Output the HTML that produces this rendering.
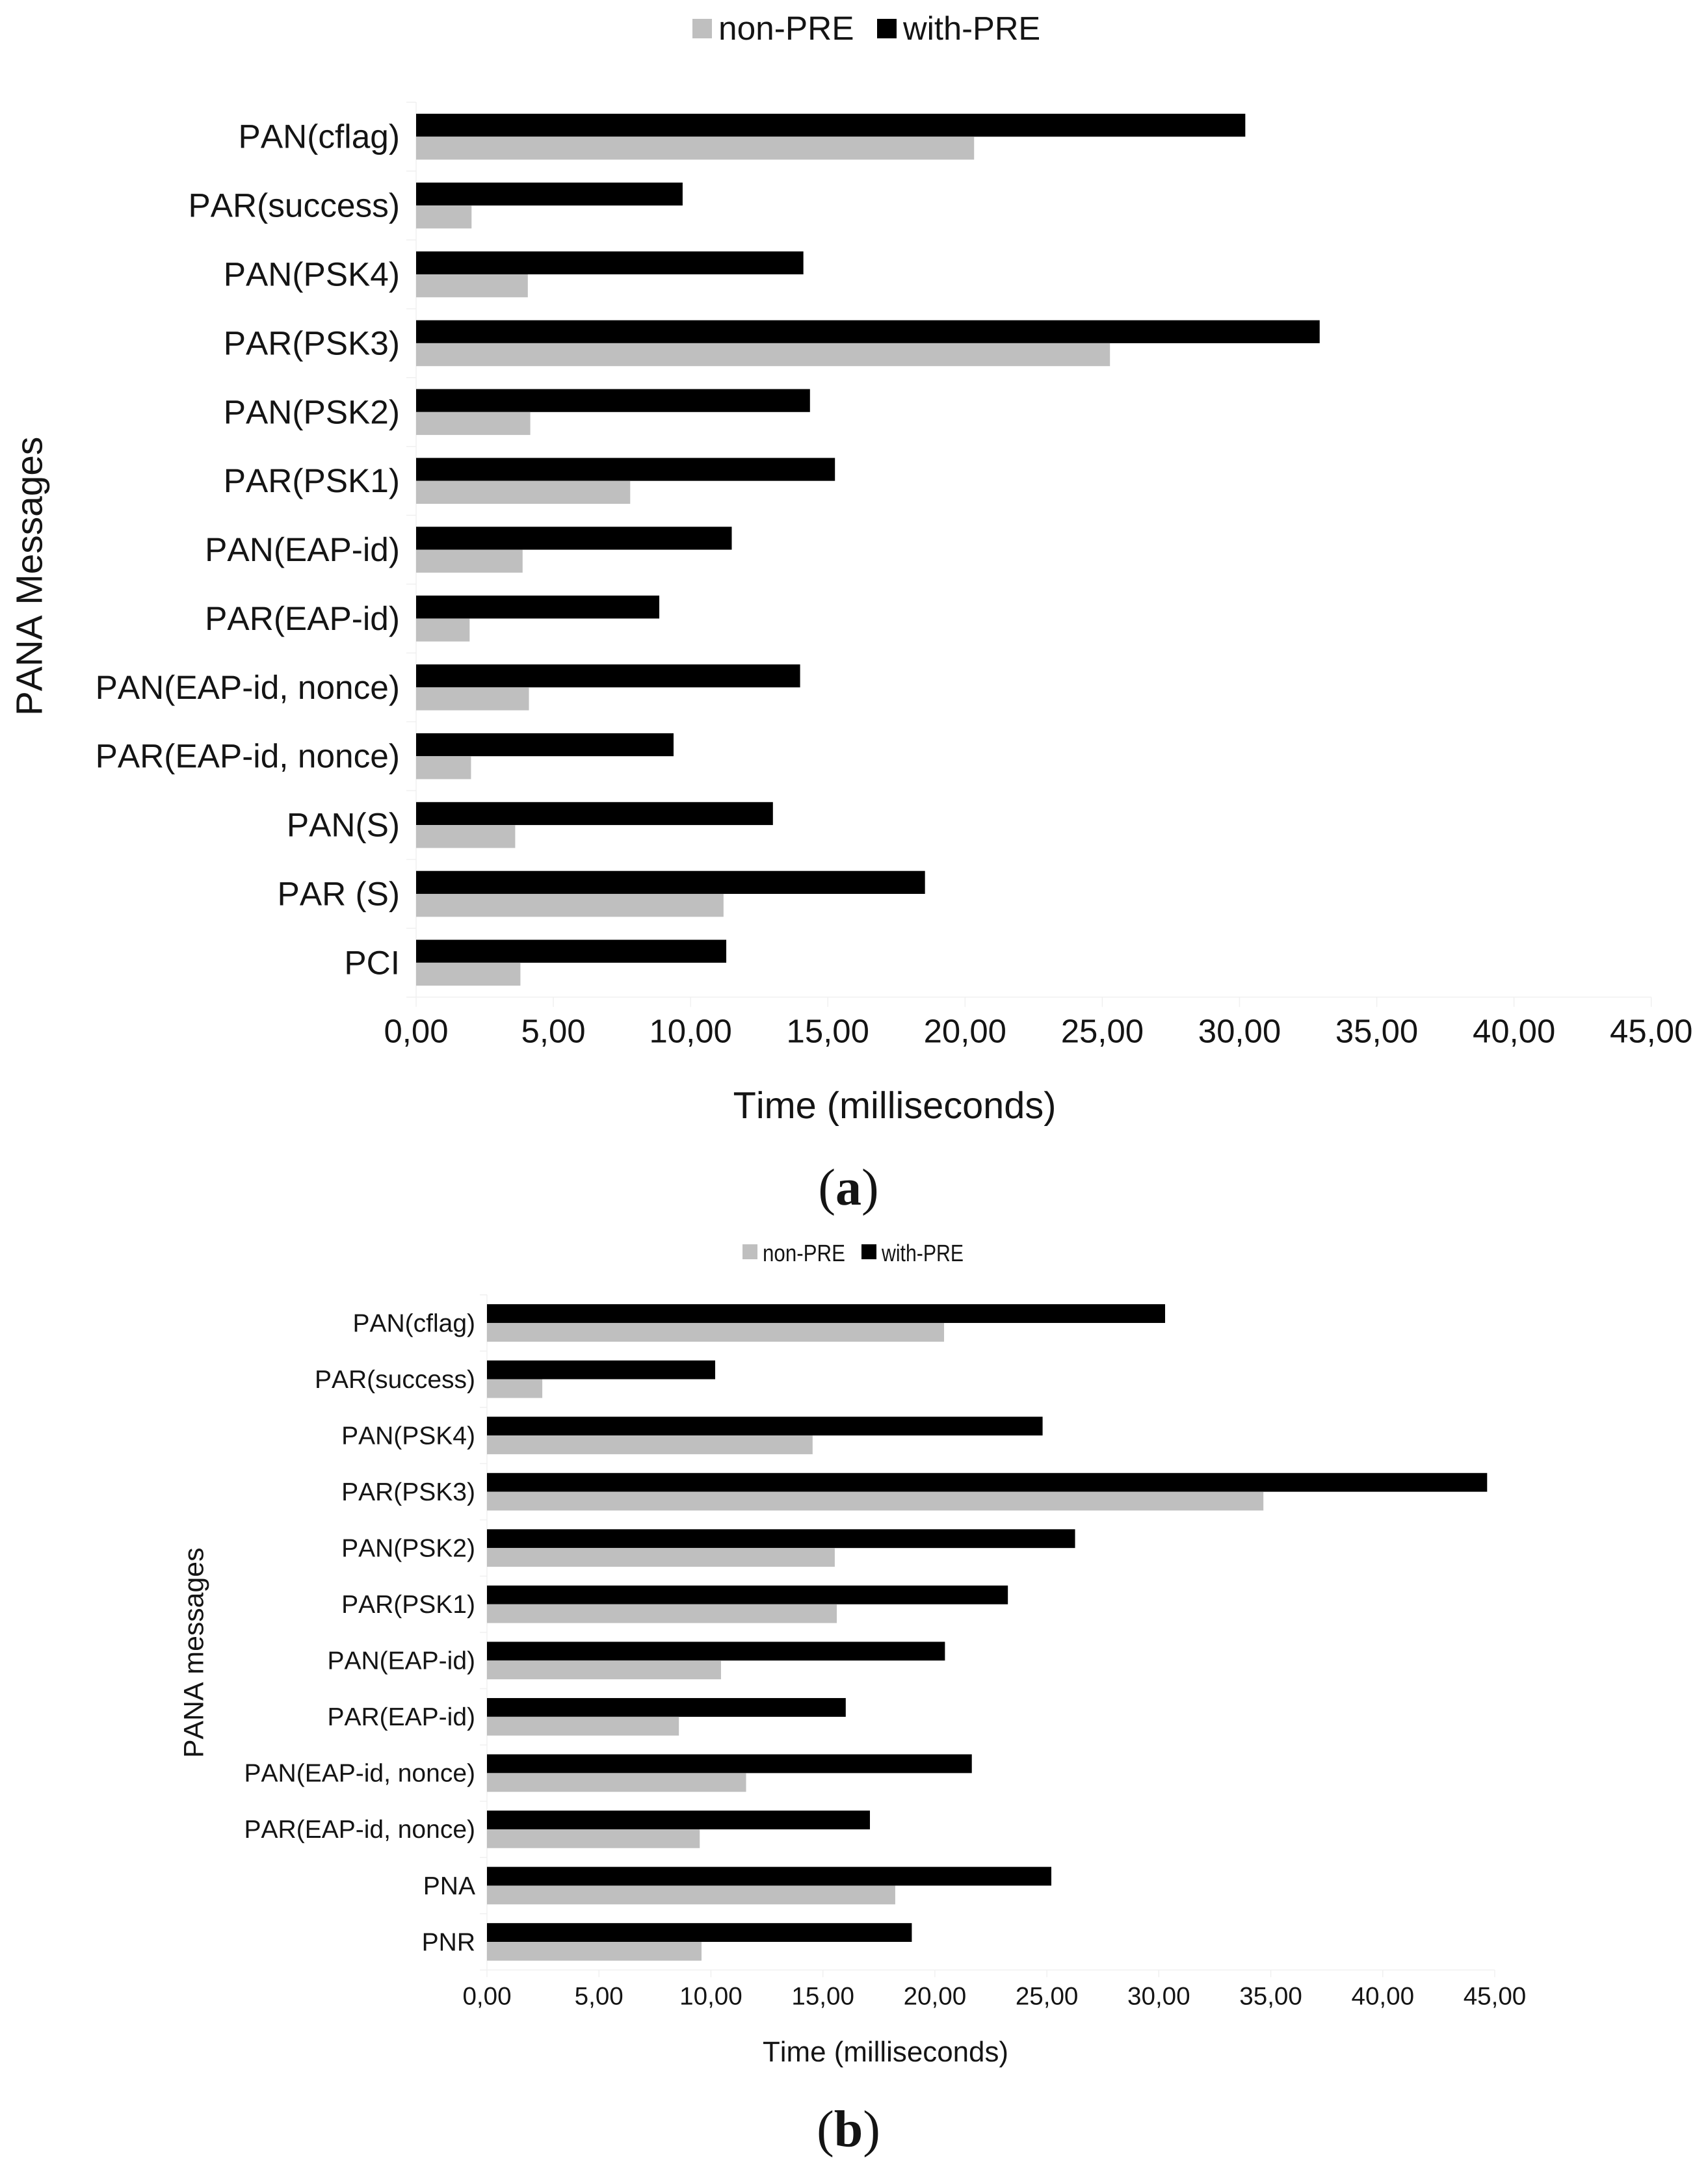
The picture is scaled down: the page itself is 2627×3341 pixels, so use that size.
<!DOCTYPE html>
<html lang="en">
<head>
<meta charset="utf-8">
<title>PANA message processing time with and without PRE</title>
<style>
  html, body { margin: 0; padding: 0; background: #fff; }
  svg { display: block; }
  text { font-family: "Liberation Sans", sans-serif; fill: #141414; text-rendering: geometricPrecision; font-kerning: none; }
  .caption { font-family: "Liberation Serif", serif; }
</style>
</head>
<body>
<svg id="figure" xmlns="http://www.w3.org/2000/svg" width="2627" height="3341" viewBox="0 0 2627 3341">
  <rect x="0" y="0" width="2627" height="3341" fill="#ffffff"/>

  <g id="chart-a"></g>
  <g>
    <g>
      <rect x="1065" y="29" width="30" height="30" fill="#bfbfbf"/>
      <text x="1105" y="61" font-size="51.4">non-PRE</text>
    </g>
    <g>
      <rect x="1349" y="29" width="30" height="30" fill="#000000"/>
      <text x="1389" y="61" font-size="50.7">with-PRE</text>
    </g>
  </g>
  <text x="1376" y="1720" font-size="57.7" text-anchor="middle">Time (milliseconds)</text>
  <text transform="translate(64.5 1101) rotate(-90)" x="0" y="0" font-size="56.8">PANA Messages</text>
  <text class="caption" x="1305" y="1853" font-size="80" text-anchor="middle">(<tspan font-weight="bold">a</tspan>)</text>

  <g id="chart-b"></g>
  <g>
    <g>
      <rect x="1142" y="1914" width="23" height="23" fill="#bfbfbf"/>
      <text x="1173" y="1940" font-size="36.5" textLength="127" lengthAdjust="spacingAndGlyphs">non-PRE</text>
    </g>
    <g>
      <rect x="1325" y="1914" width="23" height="23" fill="#000000"/>
      <text x="1356" y="1940" font-size="36.5" textLength="126" lengthAdjust="spacingAndGlyphs">with-PRE</text>
    </g>
  </g>
  <text x="1362" y="3171" font-size="43.9" text-anchor="middle">Time (milliseconds)</text>
  <text transform="translate(312.3 2704) rotate(-90)" x="0" y="0" font-size="42.8">PANA messages</text>
  <text class="caption" x="1305" y="3301.7" font-size="80" text-anchor="middle">(<tspan font-weight="bold">b</tspan>)</text>
</svg>

<script>
const categoriesA = ["PAN(cflag)", "PAR(success)", "PAN(PSK4)", "PAR(PSK3)", "PAN(PSK2)", "PAR(PSK1)", "PAN(EAP-id)", "PAR(EAP-id)", "PAN(EAP-id, nonce)", "PAR(EAP-id, nonce)", "PAN(S)", "PAR (S)", "PCI"];
const withPreA = [30.21, 9.71, 14.11, 32.92, 14.35, 15.26, 11.5, 8.86, 13.99, 9.38, 13.0, 18.54, 11.3];
const nonPreA = [20.33, 2.02, 4.07, 25.28, 4.16, 7.8, 3.88, 1.95, 4.11, 2.0, 3.61, 11.2, 3.8];

const categoriesB = ["PAN(cflag)", "PAR(success)", "PAN(PSK4)", "PAR(PSK3)", "PAN(PSK2)", "PAR(PSK1)", "PAN(EAP-id)", "PAR(EAP-id)", "PAN(EAP-id, nonce)", "PAR(EAP-id, nonce)", "PNA", "PNR"];
const withPreB = [30.28, 10.19, 24.81, 44.66, 26.26, 23.26, 20.45, 16.02, 21.65, 17.1, 25.2, 18.97];
const nonPreB = [20.41, 2.47, 14.54, 34.67, 15.53, 15.62, 10.45, 8.57, 11.57, 9.5, 18.23, 9.58];

const tickValues = [0, 5, 10, 15, 20, 25, 30, 35, 40, 45];
const tickLabels = ["0,00", "5,00", "10,00", "15,00", "20,00", "25,00", "30,00", "35,00", "40,00", "45,00"];

const SVG_NS = "http://www.w3.org/2000/svg";
const GRID = "#f0f0f0";

function makeLine(x1, y1, x2, y2) {
  const el = document.createElementNS(SVG_NS, "line");
  el.setAttribute("x1", x1);
  el.setAttribute("y1", y1);
  el.setAttribute("x2", x2);
  el.setAttribute("y2", y2);
  el.setAttribute("stroke", GRID);
  el.setAttribute("stroke-width", "1.5");
  return el;
}

function drawChart(groupId, suffix, categories, withPre, nonPre, frame) {
  const group = document.getElementById(groupId);
  const xScale = function (v) {
    return frame.left + (v - tickValues[0]) / (tickValues[tickValues.length - 1] - tickValues[0]) * (frame.right - frame.left);
  };
  const band = (frame.bottom - frame.top) / categories.length;
  const bandTop = function (i) { return frame.top + i * band; };
  const barHeight = band / 3;

  // vertical axis line and category separators
  const yAxis = makeLine(frame.left, frame.top, frame.left, frame.bottom);
  
  
  group.appendChild(yAxis);

  for (let i = 0; i <= categories.length; i++) {
    const tick = makeLine(frame.left - frame.tickLeft, bandTop(i), frame.left, bandTop(i));
    
    
    group.appendChild(tick);
  }

  // horizontal axis line, ticks, labels
  const xAxis = makeLine(frame.left, frame.bottom, frame.right, frame.bottom);
  
  
  group.appendChild(xAxis);

  tickValues.forEach(function (v, i) {
    const tick = makeLine(xScale(v), frame.bottom, xScale(v), frame.bottom + frame.tickDown);
    
    
    group.appendChild(tick);

    const label = document.createElementNS(SVG_NS, "text");
    label.setAttribute("x", xScale(v));
    label.setAttribute("y", frame.tickBaseline);
    label.setAttribute("font-size", frame.tickFont);
    label.setAttribute("text-anchor", "middle");
    
    
    label.textContent = tickLabels[i];
    group.appendChild(label);
  });

  // bars and category labels
  categories.forEach(function (name, i) {
    const barY = bandTop(i) + barHeight / 2;

    const black = document.createElementNS(SVG_NS, "rect");
    black.setAttribute("x", xScale(0));
    black.setAttribute("y", barY);
    black.setAttribute("width", xScale(withPre[i]) - xScale(0));
    black.setAttribute("height", barHeight);
    black.setAttribute("fill", "#000000");
    
    
    group.appendChild(black);

    const gray = document.createElementNS(SVG_NS, "rect");
    gray.setAttribute("x", xScale(0));
    gray.setAttribute("y", barY + barHeight);
    gray.setAttribute("width", xScale(nonPre[i]) - xScale(0));
    gray.setAttribute("height", barHeight);
    gray.setAttribute("fill", "#bfbfbf");
    
    
    group.appendChild(gray);

    const label = document.createElementNS(SVG_NS, "text");
    label.setAttribute("x", frame.labelRight);
    label.setAttribute("y", bandTop(i) + band / 2 + frame.labelOffset);
    label.setAttribute("font-size", frame.labelFont);
    label.setAttribute("text-anchor", "end");
    
    
    label.textContent = name;
    group.appendChild(label);
  });
}

drawChart("chart-a", "a", categoriesA, withPreA, nonPreA, {
  left: 640, right: 2539.7, top: 157.3, bottom: 1533.8,
  tickLeft: 15, tickDown: 15,
  tickBaseline: 1603.5, tickFont: 50.9,
  labelRight: 615, labelOffset: 17.5, labelFont: 51.4
});

drawChart("chart-b", "b", categoriesB, withPreB, nonPreB, {
  left: 749, right: 2299, top: 1991.7, bottom: 3030.3,
  tickLeft: 11, tickDown: 11,
  tickBaseline: 3083.5, tickFont: 38.6,
  labelRight: 731, labelOffset: 13.3, labelFont: 39
});
</script>
</body>
</html>
